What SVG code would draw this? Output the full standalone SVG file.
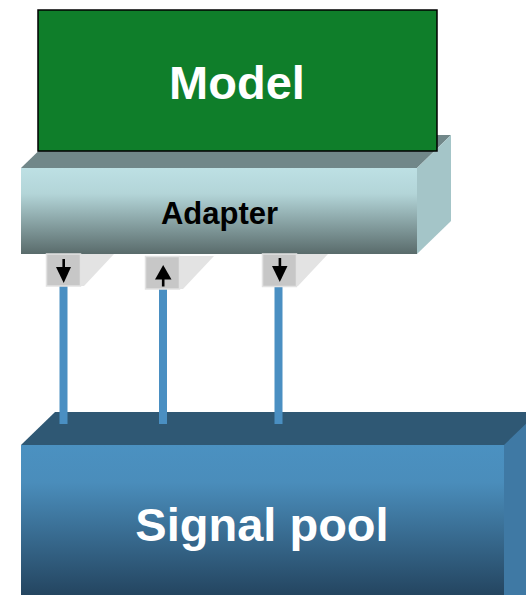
<svg xmlns="http://www.w3.org/2000/svg" width="526" height="595" viewBox="0 0 526 595">
  <style>
    .label { font-family: "Liberation Sans", Arial, sans-serif; font-weight: bold; text-anchor: middle; }
    .port { fill: #c7c7c7; stroke: #e2e2e2; stroke-width: 1.5; }
    .portShade { fill: #e3e3e3; }
    .arrow { fill: #000; }
    .wire { stroke: #4a8fc2; stroke-width: 8; fill: none; }
  </style>
  <defs>
    <linearGradient id="adapterFront" x1="0" y1="0" x2="0" y2="1">
      <stop offset="0" stop-color="#bde0e4"/>
      <stop offset="0.3" stop-color="#b3d5d8"/>
      <stop offset="1" stop-color="#596b6b"/>
    </linearGradient>
    <linearGradient id="poolFront" x1="0" y1="0" x2="0" y2="1">
      <stop offset="0" stop-color="#4b91c1"/>
      <stop offset="0.25" stop-color="#4a8dbb"/>
      <stop offset="1" stop-color="#244560"/>
    </linearGradient>
  </defs>

  <g id="signal-pool">
    <polygon points="21,445 55,412 526,412 526,445" fill="#2f5874"/>
    <polygon points="504,445 538,412 538,595 504,595" fill="#3f79a4"/>
    <rect x="21" y="445" width="483" height="150" fill="url(#poolFront)"/>
    <text class="label" x="262" y="541" font-size="47" fill="#ffffff">Signal pool</text>
  </g>

  <!-- wires between adapter ports and the signal pool -->
  <g id="connectors">
    <line class="wire" x1="63.5" y1="286" x2="63.5" y2="424"/>
    <line class="wire" x1="163" y1="289" x2="163" y2="424"/>
    <line class="wire" x1="278.5" y1="287" x2="278.5" y2="424"/>
  </g>

  <g id="adapter">
    <polygon points="21,168 55,135 451,135 417,168" fill="#718789"/>
    <polygon points="417,168 451,135 451,221 417,254" fill="#a4c5c8"/>
    <rect x="21" y="168" width="396" height="86" fill="url(#adapterFront)"/>
    <text class="label" x="219.5" y="224" font-size="31" fill="#000000">Adapter</text>
  </g>

  <g id="model">
    <rect x="38" y="10" width="399" height="141" fill="#0f7e2a" stroke="#000" stroke-width="1.5"/>
    <text class="label" x="237" y="99" font-size="47" fill="#ffffff">Model</text>
  </g>

  <g id="port-1">
    <polygon class="portShade" points="81,254 114,254 84,286 81,286"/>
    <rect class="port" x="46.5" y="254" width="34" height="32"/>
    <rect x="62.4" y="259" width="2.6" height="10" class="arrow"/>
    <polygon class="arrow" points="56,267 71,267 63.7,283"/>
  </g>

  <g id="port-2">
    <polygon class="portShade" points="180,256 214,256 183,289 180,289"/>
    <rect class="port" x="145.5" y="256.5" width="34" height="32.5"/>
    <polygon class="arrow" points="155,279.5 171.5,279.5 163.2,265"/>
    <rect x="161.9" y="278" width="2.6" height="8.5" class="arrow"/>
  </g>

  <g id="port-3">
    <polygon class="portShade" points="296.5,254 328,254 298,286 296.5,286"/>
    <rect class="port" x="262.5" y="254" width="34" height="32.5"/>
    <rect x="278.6" y="258" width="2.6" height="10" class="arrow"/>
    <polygon class="arrow" points="272,266 287.5,266 279.8,282"/>
  </g>
</svg>
